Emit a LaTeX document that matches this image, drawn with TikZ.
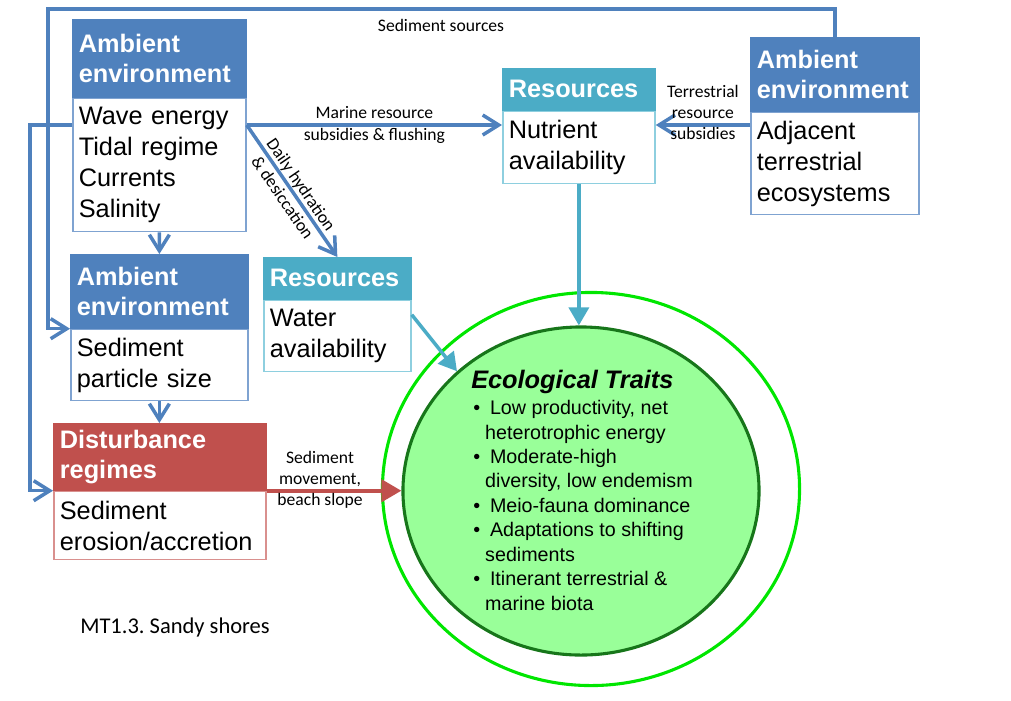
\documentclass[tikz,border=0pt]{standalone}
\usepackage{fontspec}
\setmainfont{Liberation Sans}
\newfontfamily\calfont{Carlito}
\usetikzlibrary{arrows.meta,shapes.geometric,calc}
\definecolor{ambblue}{HTML}{4F81BD}
\definecolor{ambedge}{HTML}{7FA3D1}
\definecolor{resteal}{HTML}{4BACC6}
\definecolor{resedge}{HTML}{8ECFDF}
\definecolor{disred}{HTML}{C0504D}
\definecolor{disedge}{HTML}{D9908E}
\definecolor{ecofill}{HTML}{99FF99}
\definecolor{ecoedge}{HTML}{17761A}
\definecolor{ringgreen}{HTML}{00E600}
\frenchspacing

\begin{document}
\begin{tikzpicture}[x=0.025cm,y=-0.025cm,
  hdr/.style={draw=#1, fill=#1, text=white, line width=1.2pt, anchor=north west,
    align=left, inner xsep=0.15cm, font=\bfseries\fontsize{18}{21.5}\selectfont},
  bodybox/.style={draw=#1, fill=white, line width=1.2pt, anchor=north west,
    align=left, inner xsep=0.15cm, font=\fontsize{18}{22}\selectfont},
  lab/.style={align=center, font=\calfont\fontsize{12.5}{15}\selectfont},
  bluearr/.style={draw=ambblue, line width=2.5pt, -{Straight Barb[length=4mm,width=5mm]}},
  tealarr/.style={draw=resteal, line width=2.5pt, -{Triangle[length=4.5mm,width=5mm]}},
  redarr/.style={draw=disred, line width=3pt, -{Triangle[length=5mm,width=5.5mm]}}]

  \useasboundingbox (0,0) rectangle (1011,700);

  % ecological traits
  \node[ellipse, draw=ringgreen, line width=2.2pt, minimum width=10.425cm, minimum height=9.825cm] (ring) at (591,489) {};
  \node[ellipse, draw=ecoedge, fill=ecofill, line width=2.2pt, minimum width=8.9cm, minimum height=8.2cm] (eco) at (581,491) {};
  \node[anchor=west, inner sep=0, font=\bfseries\itshape\fontsize{18}{21}\selectfont] (ttl) at (471,382) {Ecological Traits};
  \node[anchor=north west, inner sep=0, align=left, font=\fontsize{14}{17.4}\selectfont] (lst) at (473,400) {%
    \textbullet\hspace{7pt}Low productivity, net\\
    \hspace{8.5pt}heterotrophic energy\\
    \textbullet\hspace{7pt}Moderate-high\\
    \hspace{8.5pt}diversity, low endemism\\
    \textbullet\hspace{7pt}Meio-fauna dominance\\
    \textbullet\hspace{7pt}Adaptations to shifting\\
    \hspace{8.5pt}sediments\\
    \textbullet\hspace{7pt}Itinerant terrestrial \&\\
    \hspace{8.5pt}marine biota};

  % boxes
  \node[hdr=ambblue, text width=4.025cm, minimum height=1.925cm] (a1h) at (72,19) {Ambient\\environment};
  \node[bodybox=ambedge, text width=4.025cm, minimum height=3.325cm] (a1b) at (a1h.south west) {Wave energy\\Tidal regime\\Currents\\Salinity};

  \node[hdr=ambblue, text width=4.125cm, minimum height=1.825cm] (a2h) at (70,254) {Ambient\\environment};
  \node[bodybox=ambedge, text width=4.125cm, minimum height=1.775cm] (a2b) at (a2h.south west) {Sediment\\particle size};

  \node[hdr=disred, text width=5.0cm, minimum height=1.65cm] (dh) at (53,423) {Disturbance\\regimes};
  \node[bodybox=disedge, text width=5.0cm, minimum height=1.7cm] (db) at (dh.south west) {Sediment\\erosion/accretion};

  \node[hdr=resteal, text width=3.375cm, minimum height=1.025cm] (r2h) at (263,257) {Resources};
  \node[bodybox=resedge, text width=3.375cm, minimum height=1.775cm] (r2b) at (r2h.south west) {Water\\availability};

  \node[hdr=resteal, text width=3.5cm, minimum height=1.025cm] (r1h) at (502,68) {Resources};
  \node[bodybox=resedge, text width=3.5cm, minimum height=1.8cm] (r1b) at (r1h.south west) {Nutrient\\availability};

  \node[hdr=ambblue, text width=3.9cm, minimum height=1.825cm] (a3h) at (750,37) {Ambient\\environment};
  \node[bodybox=ambedge, text width=3.9cm, minimum height=2.55cm] (a3b) at (a3h.south west) {Adjacent\\terrestrial\\ecosystems};

  % connectors
  \coordinate (lvl) at (0,125);
  \coordinate (srctop) at (48,9);
  \coordinate (leftrun) at (30,125);

  \draw[bluearr] (a3h.north) |- (srctop) |- (a2h.south west);
  \node[lab] (srclab) at (441,25) {Sediment sources};
  \draw[bluearr] (a1b.west |- lvl) -- (leftrun) |- (dh.south west);
  \draw[bluearr] (a1b.south) -- (a2h.north);
  \draw[bluearr] (a2b.south) -- (a2b.south |- dh.north);
  \draw[bluearr] (a1b.east |- lvl) -- node[lab] (marlab) {Marine resource\\subsidies \& flushing} (r1b.west |- lvl);
  \draw[bluearr] (a1b.east |- lvl) -- node[lab, sloped, font=\calfont\fontsize{12.5}{16}\selectfont] (daylab) {Daily hydration\\\& desiccation} (r2h.north);
  \draw[bluearr] (a3b.west |- lvl) -- node[lab, yshift=9pt] (terlab) {Terrestrial\\resource\\subsidies} (r1b.east |- lvl);
  \draw[tealarr] (r1b.south) -- (r1b.south |- eco.north);
  \draw[tealarr] ($(r2b.north east)+(0,15)$) -- (eco.136);
  \draw[redarr] (dh.south east) -- node[lab, xshift=-10pt, yshift=8pt] (sedlab) {Sediment\\movement,\\beach slope} (dh.south east -| eco.west);

  \node[anchor=west, inner sep=0, font=\calfont\fontsize{16}{19}\selectfont] (mtlab) at (80,627) {MT1.3. Sandy shores};

\end{tikzpicture}
\end{document}
